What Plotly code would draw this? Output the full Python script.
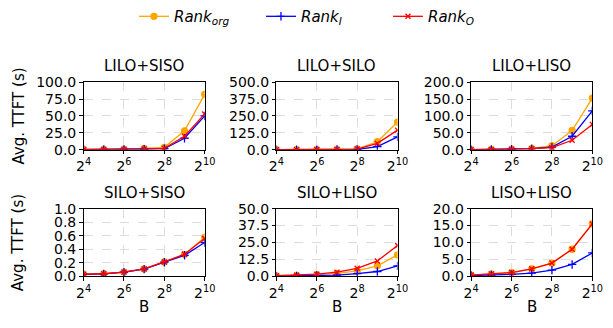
import plotly.graph_objects as go

B = [16, 32, 64, 128, 256, 512, 1024]
titles = ["LILO+SISO", "LILO+SILO", "LILO+LISO", "SILO+SISO", "SILO+LISO", "LISO+LISO"]

rank_org = [
    [0.5, 0.6, 0.9, 1.8, 3.5, 28.0, 82.0],
    [1.0, 1.2, 1.5, 2.5, 6.0, 59.0, 205.0],
    [0.5, 1.0, 2.0, 4.0, 12.0, 57.0, 153.0],
    [0.03, 0.037, 0.062, 0.108, 0.212, 0.325, 0.575],
    [0.3, 0.6, 1.2, 2.1, 4.0, 7.7, 15.8],
    [0.35, 0.7, 1.1, 2.2, 3.9, 8.0, 15.5],
]
rank_i = [
    [0.3, 0.4, 0.5, 0.8, 1.5, 17.0, 50.0],
    [0.5, 0.6, 0.8, 1.2, 2.0, 23.0, 95.0],
    [0.4, 0.8, 1.5, 3.0, 7.5, 40.0, 115.0],
    [0.028, 0.035, 0.06, 0.105, 0.208, 0.31, 0.5],
    [0.15, 0.3, 0.5, 0.9, 1.9, 3.5, 7.7],
    [0.2, 0.35, 0.55, 0.95, 1.8, 3.5, 6.9],
]
rank_o = [
    [0.4, 0.5, 0.7, 1.0, 2.0, 20.0, 53.0],
    [0.8, 1.0, 1.2, 2.0, 5.0, 47.0, 145.0],
    [0.4, 0.8, 1.5, 3.0, 6.0, 28.0, 75.0],
    [0.03, 0.037, 0.062, 0.108, 0.212, 0.325, 0.56],
    [0.4, 0.8, 1.5, 3.0, 5.9, 11.3, 22.8],
    [0.35, 0.7, 1.1, 2.2, 3.9, 8.0, 15.5],
]
y_max = [100, 500, 200, 1.0, 50, 20]
y_ticks = [
    [0, 25, 50, 75, 100],
    [0, 125, 250, 375, 500],
    [0, 50, 100, 150, 200],
    [0, 0.2, 0.4, 0.6, 0.8, 1.0],
    [0, 12.5, 25, 37.5, 50],
    [0, 5, 10, 15, 20],
]
x_tickvals = [16, 64, 256, 1024]
x_ticktext = ["2<sup>4</sup>", "2<sup>6</sup>", "2<sup>8</sup>", "2<sup>10</sup>"]

W, H = 613, 328
FONT = "DejaVu Sans"
col_px = [(78, 203), (277, 402), (478, 603)]
row_px = [(78, 149), (211, 282)]

fig = go.Figure()
series = [
    ("<i>Rank</i><sub><i>org</i></sub>", rank_org, "#FFA500", "circle", 6),
    ("<i>Rank</i><sub><i>I</i></sub>", rank_i, "#0000FF", "cross-thin", 6),
    ("<i>Rank</i><sub><i>O</i></sub>", rank_o, "#FF0000", "x-thin", 5),
]

annotations = []
for k in range(6):
    r, c = divmod(k, 3)
    ax_id = "" if k == 0 else str(k + 1)
    xa = "x" + ax_id
    ya = "y" + ax_id
    for name, data, color, sym, ms in series:
        fig.add_trace(go.Scatter(
            x=B, y=data[k], mode="lines+markers", name=name,
            legendgroup=name, showlegend=(k == 0),
            line=dict(color=color, width=1.3),
            marker=dict(symbol=sym, size=ms, color=color,
                        line=dict(color=color, width=1.3)),
            xaxis=xa, yaxis=ya,
        ))
    x0, x1 = col_px[c]
    y0, y1 = row_px[r]
    common = dict(showline=True, linecolor="black", linewidth=1, mirror=True,
                  ticks="outside", ticklen=3.5, tickwidth=1, tickcolor="black",
                  showgrid=True, gridcolor="#dcdcdc", griddash="dash", gridwidth=1,
                  zeroline=False, tickfont=dict(family=FONT, size=14, color="black"))
    fig.layout["xaxis" + ax_id] = dict(
        domain=[x0 / W, x1 / W], anchor=ya, type="log",
        range=[1.2041, 3.0103], tickvals=x_tickvals, ticktext=x_ticktext,
        **common)
    fig.layout["yaxis" + ax_id] = dict(
        domain=[1 - y1 / H, 1 - y0 / H], anchor=xa,
        range=[0, y_max[k]], tickvals=y_ticks[k],
        ticktext=[f"{v:.1f}" for v in y_ticks[k]],
        **common)
    annotations.append(dict(
        text=titles[k], x=(x0 + x1) / 2 / W, y=1 - (y0 - 17) / H,
        xref="paper", yref="paper", xanchor="center", yanchor="middle",
        showarrow=False, font=dict(family=FONT, size=15, color="black")))
    if r == 1:
        annotations.append(dict(
            text="B", x=(x0 + x1) / 2 / W, y=1 - 314 / H,
            xref="paper", yref="paper", xanchor="center", yanchor="middle",
            showarrow=False, font=dict(family=FONT, size=15, color="black")))
    if c == 0:
        annotations.append(dict(
            text="Avg. TTFT (s)", x=11 / W, y=1 - (y0 + y1) / 2 / H,
            xref="paper", yref="paper", xanchor="center", yanchor="middle",
            textangle=-90, showarrow=False,
            font=dict(family=FONT, size=15, color="black")))

fig.update_layout(
    width=W, height=H, margin=dict(l=0, r=0, t=0, b=0),
    paper_bgcolor="white", plot_bgcolor="white",
    annotations=annotations,
    legend=dict(orientation="h", x=130 / W, xanchor="left",
                y=1 - 9 / H, yanchor="middle",
                font=dict(family=FONT, size=15, color="black"),
                bgcolor="rgba(0,0,0,0)", itemwidth=30, tracegroupgap=0,
                entrywidth=82, entrywidthmode="pixels"),
)
fig.write_html("out.html")
